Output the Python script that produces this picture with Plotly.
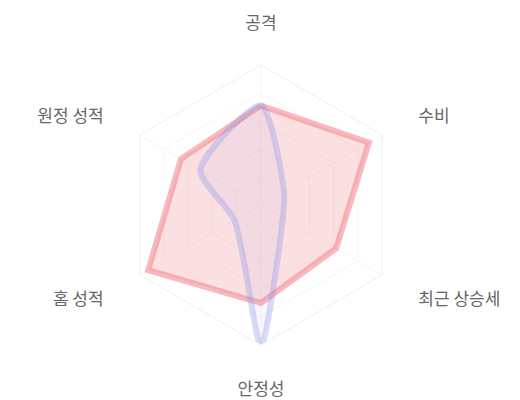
import plotly.graph_objects as go

# 축 항목 (위에서부터 시계 방향)
categories = ["공격", "수비", "최근 상승세", "안정성", "홈 성적", "원정 성적"]

# 두 팀 지표 (0~100)
team_a = [71, 89, 62, 70, 93, 66]
team_b = [71, 19, 18, 100, 22, 50]

radial_ticks = [20, 40, 60, 80, 100]

FONT = "Noto Sans CJK KR"
NB = "\u00a0" * 2

# 좌우 라벨은 원 바깥쪽으로 조금 더 띄운다
tick_text = ["공격", NB + "수비", NB + "최근 상승세", "안정성", "홈 성적" + NB, "원정 성적" + NB]


def closed(vals):
    return list(vals) + [vals[0]]


fig = go.Figure()

fig.add_trace(go.Scatterpolar(
    r=closed(team_a), theta=closed(categories),
    mode="lines", fill="toself",
    fillcolor="rgba(240,130,140,0.25)",
    line=dict(color="rgba(240,130,138,0.55)", width=6),
    hoverinfo="skip",
))

fig.add_trace(go.Scatterpolar(
    r=closed(team_b), theta=closed(categories),
    mode="lines", fill="toself",
    fillcolor="rgba(150,150,230,0.08)",
    line=dict(color="rgba(140,150,235,0.35)", width=6, shape="spline", smoothing=0.7),
    hoverinfo="skip",
))

fig.update_layout(
    width=520, height=400,
    margin=dict(l=113, r=127, t=57, b=63),
    paper_bgcolor="white",
    showlegend=False,
    font=dict(family=FONT),
    polar=dict(
        bgcolor="white",
        gridshape="linear",
        radialaxis=dict(range=[0, 100], tickvals=radial_ticks, showticklabels=False,
                        showline=False, ticks="", gridcolor="#f6f6f6"),
        angularaxis=dict(rotation=90, direction="clockwise",
                         tickvals=categories, ticktext=tick_text,
                         ticks="outside", ticklen=29, tickcolor="rgba(0,0,0,0)",
                         tickfont=dict(family=FONT, size=17, color="#666"),
                         linecolor="#f0f0f0", gridcolor="#f6f6f6"),
    ),
)

fig.write_html("out.html")
